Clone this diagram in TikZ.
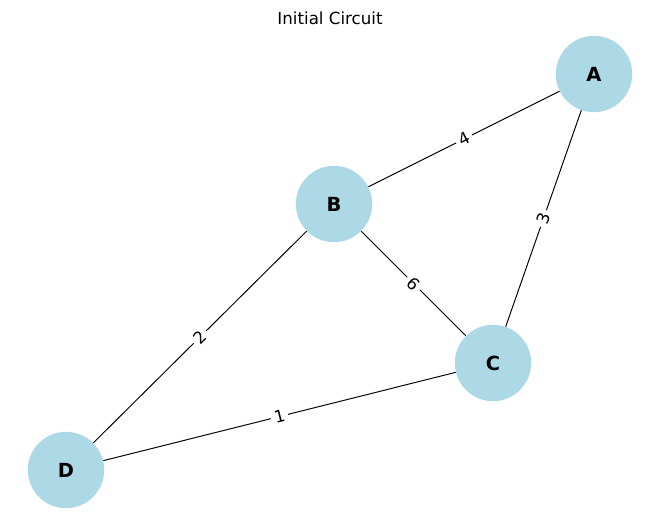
\documentclass[tikz,border=0pt]{standalone}
\usepackage{fontspec}
\setmainfont{DejaVu Sans}
\usepackage{tikz}
\usetikzlibrary{positioning,calc}
\definecolor{lightblue}{RGB}{173,216,230}

\begin{document}
\begin{tikzpicture}[
      x=0.72pt, y=-0.72pt,
      vertex/.style={fill=lightblue,circle,minimum size=55pt,inner sep=0pt,font=\fontsize{14}{16}\selectfont\bfseries},
      weight/.style={fill=white,inner sep=2.5pt,sloped,font=\fontsize{12}{14}\selectfont},
      wire/.style={draw=black,line width=0.7pt}
    ]
    \useasboundingbox (0,0) rectangle (660,522);

    % title
    \node (title) at (330,18) {\fontsize{12}{14}\selectfont Initial Circuit};

    % the vertices
    \node[vertex] (A) at (594,74) {A};
    \node[vertex] (B) at (334,204) {B};
    \node[vertex] (C) at (493,363) {C};
    \node[vertex] (D) at (66,470) {D};

    % the weighted edges
    \draw[wire] (A) -- node[weight] {4} (B);
    \draw[wire] (A) -- node[weight] {3} (C);
    \draw[wire] (B) -- node[weight] {6} (C);
    \draw[wire] (B) -- node[weight] {2} (D);
    \draw[wire] (C) -- node[weight] {1} (D);
\end{tikzpicture}
\end{document}
